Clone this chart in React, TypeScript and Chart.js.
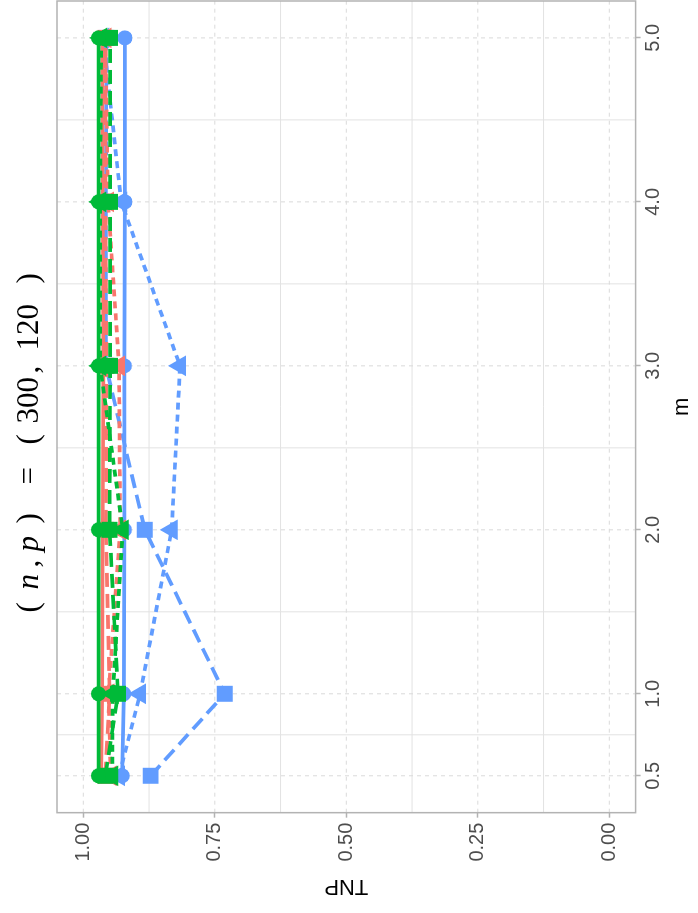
import React, { useEffect, useRef } from "react";
import { Chart, registerables } from "chart.js";

Chart.register(...registerables);

// ---- data ----
const M_VALUES = [0.5, 1, 2, 3, 4, 5];
const M_TICKS = [0.5, 1, 2, 3, 4, 5];
const M_MINOR = [0.75, 1.5, 2.5, 3.5, 4.5];
const TNP_TICKS = [0, 0.25, 0.5, 0.75, 1];
const TNP_MINOR = [0.125, 0.375, 0.625, 0.875];

const GREEN_SOLID = [0.971, 0.971, 0.971, 0.971, 0.971, 0.971];
const GREEN_DASHED = [0.958, 0.934, 0.950, 0.949, 0.949, 0.949];
const GREEN_DOTTED = [0.945, 0.944, 0.925, 0.968, 0.968, 0.966];

const RED_SOLID = [0.966, 0.964, 0.963, 0.962, 0.963, 0.964];
const RED_DASHED = [0.958, 0.950, 0.957, 0.956, 0.958, 0.958];
const RED_DOTTED = [0.948, 0.952, 0.930, 0.932, 0.953, 0.958];

const BLUE_SOLID = [0.926, 0.923, 0.922, 0.922, 0.921, 0.921];
const BLUE_DASHED = [0.872, 0.731, 0.883, 0.957, 0.957, 0.956];
const BLUE_DOTTED = [0.932, 0.892, 0.832, 0.816, 0.928, 0.962];

const GREEN = "#00BA38";
const RED = "#F8766D";
const BLUE = "#619CFF";

const SERIES = [
  { color: GREEN, type: "solid", values: GREEN_SOLID },
  { color: GREEN, type: "dashed", values: GREEN_DASHED },
  { color: GREEN, type: "dotted", values: GREEN_DOTTED },
  { color: RED, type: "solid", values: RED_SOLID },
  { color: RED, type: "dashed", values: RED_DASHED },
  { color: RED, type: "dotted", values: RED_DOTTED },
  { color: BLUE, type: "solid", values: BLUE_SOLID },
  { color: BLUE, type: "dashed", values: BLUE_DASHED },
  { color: BLUE, type: "dotted", values: BLUE_DOTTED },
];

const STYLE: Record<string, { dash: number[]; shape: string; radius: number }> = {
  solid: { dash: [], shape: "circle", radius: 7.5 },
  dashed: { dash: [14, 7], shape: "rect", radius: 11.3 },
  dotted: { dash: [7, 5], shape: "triangle", radius: 12 },
};

const TITLE_PARTS = [
  { text: "(", italic: false, dx: -156 },
  { text: "n", italic: true, dx: -133 },
  { text: ",", italic: false, dx: -111 },
  { text: "p", italic: true, dx: -95 },
  { text: ")", italic: false, dx: -67 },
  { text: "=", italic: false, dx: -28 },
  { text: "(", italic: false, dx: 12 },
  { text: "300", italic: false, dx: 33 },
  { text: ",", italic: false, dx: 83 },
  { text: "120", italic: false, dx: 106 },
  { text: ")", italic: false, dx: 173 },
];

const W = 913;
const H = 698;

const gridPlugin = {
  id: "ggGrid",
  beforeDatasetsDraw(chart: any) {
    const { ctx, chartArea: a, scales } = chart;
    const xs = scales.x;
    const ys = scales.y;
    ctx.save();
    ctx.lineWidth = 1;
    ctx.strokeStyle = "#E2E2E2";
    ctx.setLineDash([]);
    M_MINOR.forEach((v) => {
      const p = xs.getPixelForValue(v);
      ctx.beginPath();
      ctx.moveTo(p, a.top);
      ctx.lineTo(p, a.bottom);
      ctx.stroke();
    });
    TNP_MINOR.forEach((v) => {
      const p = ys.getPixelForValue(v);
      ctx.beginPath();
      ctx.moveTo(a.left, p);
      ctx.lineTo(a.right, p);
      ctx.stroke();
    });
    ctx.strokeStyle = "#DADADA";
    ctx.setLineDash([4, 4]);
    M_TICKS.forEach((v) => {
      const p = xs.getPixelForValue(v);
      ctx.beginPath();
      ctx.moveTo(p, a.top);
      ctx.lineTo(p, a.bottom);
      ctx.stroke();
    });
    TNP_TICKS.forEach((v) => {
      const p = ys.getPixelForValue(v);
      ctx.beginPath();
      ctx.moveTo(a.left, p);
      ctx.lineTo(a.right, p);
      ctx.stroke();
    });
    ctx.restore();
  },
  afterDatasetsDraw(chart: any) {
    const { ctx, chartArea: a } = chart;
    ctx.save();
    ctx.lineWidth = 1.5;
    ctx.strokeStyle = "#B3B3B3";
    ctx.setLineDash([]);
    ctx.strokeRect(a.left, a.top, a.right - a.left, a.bottom - a.top);
    ctx.restore();
  },
};

const titlePlugin = {
  id: "mathTitle",
  afterDraw(chart: any) {
    const { ctx } = chart;
    const cx = chart.width / 2;
    ctx.save();
    ctx.fillStyle = "#000";
    ctx.textBaseline = "alphabetic";
    ctx.textAlign = "left";
    TITLE_PARTS.forEach((p) => {
      ctx.font = (p.italic ? "italic " : "") + "31px 'Liberation Serif', 'DejaVu Serif', serif";
      ctx.fillText(p.text, cx + p.dx, 38);
    });
    ctx.restore();
  },
};

export default function App() {
  const ref = useRef<HTMLCanvasElement | null>(null);

  useEffect(() => {
    if (!ref.current) return;
    const datasets = SERIES.map((s) => {
      const st = STYLE[s.type];
      return {
        data: M_VALUES.map((m, i) => ({ x: m, y: s.values[i] })),
        borderColor: s.color,
        backgroundColor: s.color,
        borderWidth: 3.7,
        borderDash: st.dash,
        borderCapStyle: "butt" as const,
        pointStyle: st.shape,
        pointRadius: st.radius,
        pointBorderWidth: 0,
        pointBackgroundColor: s.color,
        pointBorderColor: s.color,
        tension: 0,
        fill: false,
      };
    });
    const tickFont = { family: "'Liberation Sans', Arial, sans-serif", size: 20 };
    const titleFont = { family: "'Liberation Sans', Arial, sans-serif", size: 22 };
    const chart = new Chart(ref.current, {
      type: "line",
      data: { datasets: datasets as any },
      plugins: [gridPlugin, titlePlugin],
      options: {
        animation: false,
        responsive: false,
        devicePixelRatio: 1,
        layout: { autoPadding: false, padding: { left: 10, top: 57, right: 1, bottom: 0 } },
        plugins: {
          legend: { display: false },
          tooltip: { enabled: false },
          title: { display: false },
        },
        scales: {
          x: {
            type: "linear",
            position: "bottom",
            min: 0.275,
            max: 5.225,
            afterBuildTicks: (s: any) => {
              s.ticks = M_TICKS.map((v) => ({ value: v }));
            },
            afterFit: (s: any) => {
              s.paddingLeft = 0;
              s.paddingRight = 0;
            },
            ticks: {
              callback: (v: any) => Number(v).toFixed(1),
              font: tickFont,
              color: "#4D4D4D",
              padding: 1,
              maxRotation: 0,
              minRotation: 0,
              autoSkip: false,
            },
            grid: {
              drawOnChartArea: false,
              drawTicks: true,
              tickLength: 5,
              tickColor: "#B3B3B3",
              tickWidth: 1.5,
            },
            border: { display: false },
            title: {
              display: true,
              text: "m",
              font: titleFont,
              color: "#000",
              padding: { top: 2, bottom: 3 },
            },
          },
          y: {
            type: "linear",
            position: "left",
            min: -0.05,
            max: 1.05,
            afterBuildTicks: (s: any) => {
              s.ticks = TNP_TICKS.map((v) => ({ value: v }));
            },
            ticks: {
              callback: (v: any) => Number(v).toFixed(2),
              font: tickFont,
              color: "#4D4D4D",
              padding: 5,
              autoSkip: false,
            },
            grid: {
              drawOnChartArea: false,
              drawTicks: true,
              tickLength: 5,
              tickColor: "#B3B3B3",
              tickWidth: 1.5,
            },
            border: { display: false },
            title: {
              display: true,
              text: "TNP",
              font: titleFont,
              color: "#000",
              padding: { top: 4, bottom: 6 },
            },
          },
        },
      } as any,
    });
    return () => chart.destroy();
  }, []);

  return (
    <div
      style={{
        position: "fixed",
        left: 0,
        top: 0,
        width: H,
        height: W,
        overflow: "hidden",
        background: "#fff",
      }}
    >
      <div
        style={{
          position: "absolute",
          left: 0,
          top: 0,
          width: W,
          height: H,
          transformOrigin: "0 0",
          transform: `translate(0px, ${W}px) rotate(-90deg)`,
        }}
      >
        <canvas ref={ref} width={W} height={H} style={{ display: "block", width: W, height: H }} />
      </div>
    </div>
  );
}
